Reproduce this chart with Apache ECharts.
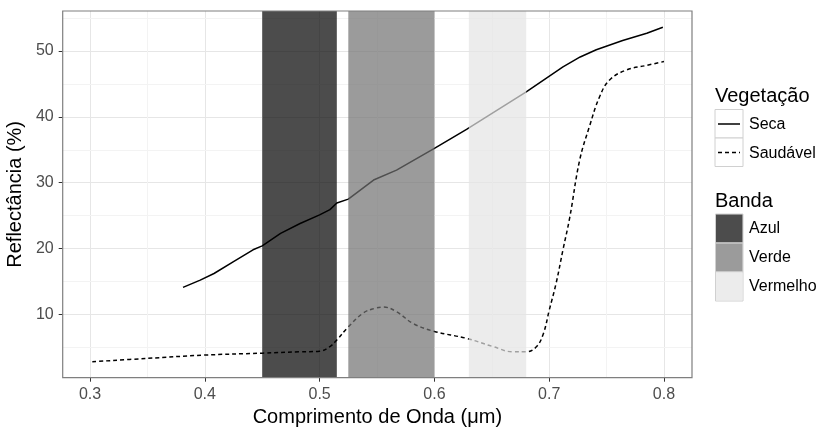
<!DOCTYPE html>
<html>
<head>
<meta charset="utf-8">
<script src="https://cdn.jsdelivr.net/npm/echarts@6/dist/echarts.min.js"></script>
<style>
  html, body { margin: 0; padding: 0; background: #fff; }
  #chart { width: 820px; height: 427px; }
</style>
</head>
<body>
<div id="chart"></div>
<script>
// eixos
var xTicks = [0.3, 0.4, 0.5, 0.6, 0.7, 0.8]
var yTicks = [10, 20, 30, 40, 50]
var xMinor = [0.35, 0.45, 0.55, 0.65, 0.75]
var yMinor = [5, 15, 25, 35, 45, 55]

// curvas de reflectância
var secaX = [0.381, 0.396, 0.408, 0.425, 0.442, 0.45, 0.466, 0.483, 0.5, 0.509, 0.515, 0.525, 0.547, 0.567, 0.6, 0.628, 0.68, 0.712, 0.727, 0.741, 0.764, 0.785, 0.799]
var secaY = [14.1, 15.2, 16.2, 18.0, 19.8, 20.4, 22.3, 23.8, 25.1, 25.9, 26.9, 27.5, 30.4, 31.9, 35.2, 38.1, 43.8, 47.6, 49.1, 50.2, 51.6, 52.7, 53.6]
var saudX = [0.302, 0.35, 0.399, 0.45, 0.483, 0.5, 0.509, 0.515, 0.524, 0.538, 0.548, 0.5555, 0.567, 0.5815, 0.6, 0.628, 0.651, 0.6685, 0.68, 0.689, 0.695, 0.7, 0.706, 0.712, 0.718, 0.7265, 0.735, 0.744, 0.7526, 0.767, 0.7845, 0.8]
var saudY = [2.8, 3.3, 3.8, 4.1, 4.3, 4.4, 5.1, 6.1, 7.9, 10.2, 10.9, 11.1, 10.4, 8.6, 7.4, 6.35, 5.1, 4.3, 4.3, 5.1, 7.1, 10.6, 14.7, 19.8, 24.8, 33.4, 38.5, 43.1, 45.6, 47.1, 47.8, 48.4]

// bandas espectrais
var bandas = ['Azul', 'Verde', 'Vermelho']
var bandaIni = [0.45, 0.525, 0.63]
var bandaFim = [0.515, 0.6, 0.68]
var bandaCor = ['rgba(0,0,0,0.7)', 'rgba(113,113,113,0.7)', 'rgba(228,228,228,0.7)']

var fonte = 'Liberation Sans, Arial, sans-serif'

function pares(xs, ys) {
  return xs.map(function (x, i) { return [x, ys[i]] })
}

var chart = echarts.init(document.getElementById('chart'))

var series = [
  // grade secundária
  {
    name: 'grade',
    type: 'line',
    data: [],
    silent: true,
    z: 1,
    markLine: {
      silent: true,
      z: 1,
      symbol: 'none',
      label: { show: false },
      lineStyle: { color: '#f3f3f3', width: 1, type: 'solid' },
      data: xMinor.map(function (v) { return { xAxis: v } })
        .concat(yMinor.map(function (v) { return { yAxis: v } }))
    }
  },
  {
    name: 'Seca',
    type: 'line',
    data: pares(secaX, secaY),
    showSymbol: false,
    symbol: 'none',
    z: 2,
    lineStyle: { color: '#000', width: 1.5 }
  },
  {
    name: 'Saudável',
    type: 'line',
    data: pares(saudX, saudY),
    showSymbol: false,
    symbol: 'none',
    smooth: 0.4,
    z: 2,
    lineStyle: { color: '#000', width: 1.5, type: [4, 3] }
  }
]

bandas.forEach(function (b, i) {
  series.push({
    name: b,
    type: 'line',
    data: [],
    z: 3,
    markArea: {
      silent: true,
      z: 3,
      itemStyle: { color: bandaCor[i] },
      data: [[{ xAxis: bandaIni[i] }, { xAxis: bandaFim[i] }]]
    }
  })
})

// legenda (ggplot)
var legX = 715
var graficos = [
  { type: 'text', left: legX, top: 86, style: { text: 'Vegetação', font: '20px ' + fonte, fill: '#000' } },
  { type: 'rect', shape: { x: legX, y: 109.5, width: 28, height: 28.5 }, style: { fill: '#fff', stroke: '#d0d0d0', lineWidth: 1 } },
  { type: 'rect', shape: { x: legX, y: 138, width: 28, height: 28.5 }, style: { fill: '#fff', stroke: '#d0d0d0', lineWidth: 1 } },
  { type: 'line', shape: { x1: legX + 3, y1: 124, x2: legX + 25, y2: 124 }, style: { stroke: '#000', lineWidth: 1.5 } },
  { type: 'line', shape: { x1: legX + 3, y1: 152.5, x2: legX + 25, y2: 152.5 }, style: { stroke: '#000', lineWidth: 1.5, lineDash: [4, 3] } },
  { type: 'text', left: legX + 34, top: 117, style: { text: 'Seca', font: '16px ' + fonte, fill: '#000' } },
  { type: 'text', left: legX + 34, top: 146, style: { text: 'Saudável', font: '16px ' + fonte, fill: '#000' } },
  { type: 'text', left: legX, top: 191, style: { text: 'Banda', font: '20px ' + fonte, fill: '#000' } }
]
bandas.forEach(function (b, i) {
  var y0 = 214 + i * 29
  graficos.push({ type: 'rect', shape: { x: legX + 0.5, y: y0, width: 27.5, height: 29 }, style: { fill: '#fff', stroke: '#d0d0d0', lineWidth: 1 } })
  graficos.push({ type: 'rect', shape: { x: legX + 1, y: y0 + 0.5, width: 26.5, height: 28 }, style: { fill: bandaCor[i] } })
  graficos.push({ type: 'text', left: legX + 34, top: y0 + 7, style: { text: b, font: '16px ' + fonte, fill: '#000' } })
})
// moldura do painel
graficos.push({ type: 'rect', z: 100, shape: { x: 62.7, y: 11, width: 629.3, height: 366.7 }, style: { fill: 'none', stroke: '#7f7f7f', lineWidth: 1.2 } })

chart.setOption({
  backgroundColor: '#fff',
  animation: false,
  textStyle: { fontFamily: fonte },
  grid: { left: 62.7, right: 128, top: 11, bottom: 49.3, containLabel: false, outerBoundsMode: 'none' },
  xAxis: {
    type: 'value',
    min: 0.2762,
    max: 0.8244,
    name: 'Comprimento de Onda (μm)',
    nameLocation: 'middle',
    nameGap: 26,
    nameTextStyle: { fontSize: 20, color: '#000', fontFamily: fonte },
    axisLine: { show: false },
    axisTick: { show: true, length: 4, customValues: xTicks, lineStyle: { color: '#333', width: 1 } },
    axisLabel: {
      customValues: xTicks,
      margin: 9,
      fontSize: 16,
      color: '#4d4d4d',
      formatter: function (v) { return v.toFixed(1) }
    },
    splitLine: { show: true, lineStyle: { color: '#e6e6e6', width: 1 } }
  },
  yAxis: {
    type: 'value',
    min: 0.37,
    max: 56.08,
    name: 'Reflectância (%)',
    nameLocation: 'middle',
    nameGap: 34,
    nameTextStyle: { fontSize: 20, color: '#000', fontFamily: fonte },
    axisLine: { show: false },
    axisTick: { show: true, length: 4, customValues: yTicks, lineStyle: { color: '#333', width: 1 } },
    axisLabel: { customValues: yTicks, margin: 9, fontSize: 16, color: '#4d4d4d' },
    splitLine: { show: true, lineStyle: { color: '#e6e6e6', width: 1 } }
  },
  series: series,
  graphic: graficos
})
</script>
</body>
</html>
